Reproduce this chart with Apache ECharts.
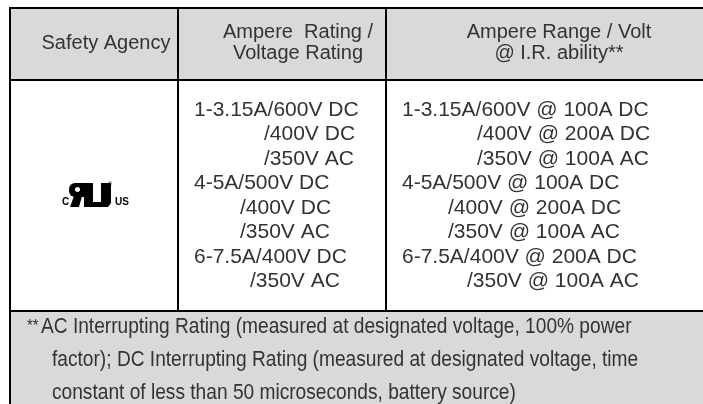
<!DOCTYPE html>
<html>
<head>
<meta charset="utf-8">
<script src="https://cdn.jsdelivr.net/npm/echarts@6/dist/echarts.min.js"></script>
<style>
html,body{margin:0;padding:0;background:#fff;}
#chart{width:703px;height:404px;}
</style>
</head>
<body>
<div id="chart"></div>
<script>
// ---- table content ----
const headerAgency = ['Safety Agency'];
const headerRating = ['Ampere  Rating /', 'Voltage Rating'];
const headerRange = ['Ampere Range / Volt', '@ I.R. ability**'];
const ratingLines = ['1-3.15A/600V DC', '/400V DC', '/350V AC', '4-5A/500V DC', '/400V DC', '/350V AC', '6-7.5A/400V DC', '/350V AC'];
const rangeLines = ['1-3.15A/600V @ 100A DC', '/400V @ 200A DC', '/350V @ 100A AC', '4-5A/500V @ 100A DC', '/400V @ 200A DC', '/350V @ 100A AC', '6-7.5A/400V @ 200A DC', '/350V @ 100A AC'];
const footMark = '**';
const footnoteLines = [
  'AC Interrupting Rating (measured at designated voltage, 100% power',
  'factor); DC Interrupting Rating (measured at designated voltage, time',
  'constant of less than 50 microseconds, battery source)'
];
const logoLeft = 'C';
const logoRight = 'US';

// ---- layout (positions / styles) ----
const TXT = '#333333';
const GRAY = '#d9d9d9';
const FONT = '"Liberation Sans", Arial, sans-serif';
const ratingIndent = [194, 264, 264, 194, 240, 240, 194, 250];
const rangeIndent = [402, 477, 477, 402, 448, 448, 402, 467];
const bodyTop = 110, bodyStep = 24.5;
const footTop = 327, footStep = 33;

const el = [];
// gray fills
el.push({type:'rect', shape:{x:11, y:9, width:692, height:70}, style:{fill:GRAY}});
el.push({type:'rect', shape:{x:11, y:312, width:692, height:92}, style:{fill:GRAY}});
// grid lines
const line = (x,y,w,h) => el.push({type:'rect', shape:{x,y,width:w,height:h}, style:{fill:'#000'}});
line(9, 7, 694, 2);      // top
line(9, 79, 694, 2);     // header bottom
line(9, 310, 694, 2);    // footer top
line(9, 7, 2, 397);      // left
line(177, 7, 2, 304);    // col sep 1
line(385, 7, 2, 304);    // col sep 2

const txt = (text, x, y, size, align, extra) => el.push(Object.assign({
  type:'text', x, y,
  style:{text, x:0, y:0, font: size + 'px ' + FONT, fill:TXT, align, verticalAlign:'middle'}
}, extra || {}));

// headers
txt(headerAgency[0], 106, 43.5, 20, 'center');
headerRating.forEach((t,i) => txt(t, 298, 32.5 + i*20.5, 20, 'center'));
headerRange.forEach((t,i) => txt(t, 559, 32.5 + i*20.5, 20, 'center'));

// body
ratingLines.forEach((t,i) => txt(t, ratingIndent[i], bodyTop + i*bodyStep, 21, 'left'));
rangeLines.forEach((t,i) => txt(t, rangeIndent[i], bodyTop + i*bodyStep, 21, 'left'));

// footnote (narrow face via horizontal scaling)
txt(footMark, 27, footTop - 1, 17, 'left', {scaleX:0.87});
txt(footnoteLines[0], 41, footTop, 22, 'left', {scaleX:0.87});
txt(footnoteLines[1], 52, footTop + footStep, 22, 'left', {scaleX:0.87});
txt(footnoteLines[2], 52, footTop + 2*footStep, 22, 'left', {scaleX:0.87});

// cRUus logo
const lx = 69, ly = 183;
el.push({type:'group', x:lx, y:ly, children:[
  {type:'rect', shape:{x:0, y:0, width:16, height:14, r:[6,0,0,6]}, style:{fill:'#000'}},
  {type:'ellipse', shape:{cx:8.5, cy:6.5, rx:2.6, ry:2.4}, style:{fill:'#fff'}},
  {type:'polygon', shape:{points:[[5,13],[13,13],[10,24],[1,24]]}, style:{fill:'#000'}},
  {type:'polygon', shape:{points:[[15,0],[24,0],[24,19],[32,19],[32,0],[42,0],[42,20],[39,24],[15,24]]}, style:{fill:'#000'}}
]});
el.push({type:'text', x:62, y:207.5, style:{text:logoLeft, x:0, y:0, font:'bold 10px ' + FONT, fill:'#000', align:'left', verticalAlign:'bottom'}});
el.push({type:'text', x:115, y:207.5, style:{text:logoRight, x:0, y:0, font:'bold 10px ' + FONT, fill:'#000', align:'left', verticalAlign:'bottom'}});
el.push({type:'text', x:110, y:184.5, style:{text:'®', x:0, y:0, font:'6px ' + FONT, fill:'#000', align:'center', verticalAlign:'middle'}});

const chart = echarts.init(document.getElementById('chart'), null, {renderer:'canvas'});
chart.setOption({
  backgroundColor:'#ffffff',
  animation:false,
  graphic:{elements: el}
});
</script>
</body>
</html>
